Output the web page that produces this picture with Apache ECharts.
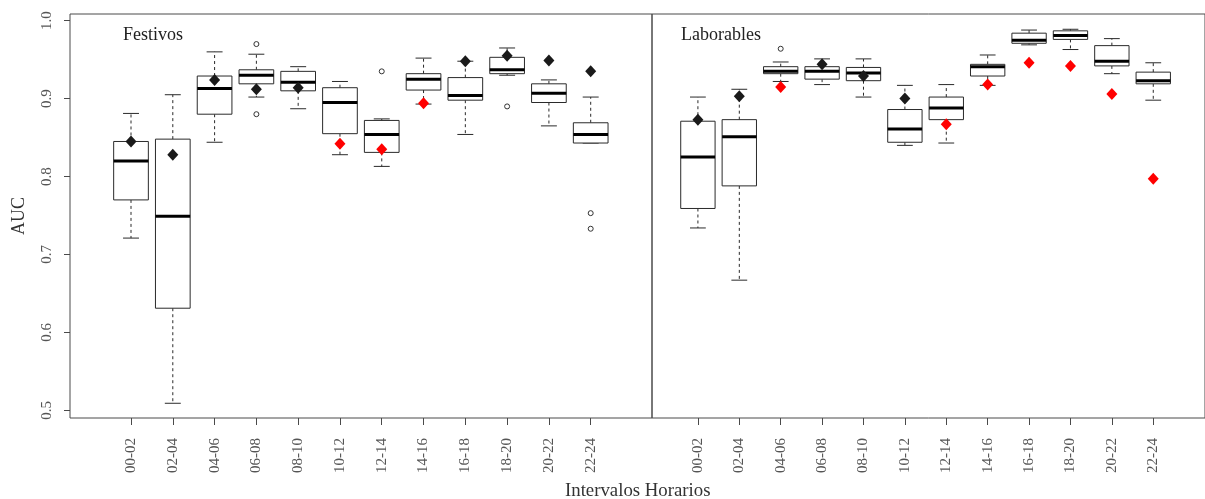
<!DOCTYPE html>
<html>
<head>
<meta charset="utf-8">
<title>AUC por intervalos horarios</title>
<script src="https://cdn.jsdelivr.net/npm/echarts@6/dist/echarts.min.js"></script>
<style>
  html, body { margin: 0; padding: 0; background: #fff; }
  #chart { width: 1205px; height: 499px; }
</style>
</head>
<body>
<div id="chart"></div>
<script>
// Two-hour intervals shown on both panels
const categories = ['00-02', '02-04', '04-06', '06-08', '08-10', '10-12',
                    '12-14', '14-16', '16-18', '18-20', '20-22', '22-24'];
const yTicks = [0.5, 0.6, 0.7, 0.8, 0.9, 1.0];

// Festivos: whisker ends, quartiles and median per interval
const festLow  = [0.721, 0.509, 0.844, 0.902, 0.887, 0.828, 0.813, 0.893, 0.854, 0.930, 0.865, 0.843];
const festQ1   = [0.770, 0.631, 0.880, 0.919, 0.910, 0.855, 0.831, 0.911, 0.898, 0.932, 0.895, 0.843];
const festMed  = [0.820, 0.749, 0.913, 0.930, 0.921, 0.895, 0.854, 0.925, 0.904, 0.937, 0.907, 0.854];
const festQ3   = [0.845, 0.848, 0.929, 0.937, 0.935, 0.914, 0.872, 0.932, 0.927, 0.953, 0.919, 0.869];
const festHigh = [0.881, 0.905, 0.960, 0.957, 0.941, 0.922, 0.874, 0.952, 0.948, 0.965, 0.924, 0.902];
// Festivos: outlying AUC values as [interval index, value]
const festOutliers = [[3, 0.970], [3, 0.880], [6, 0.935], [9, 0.890], [11, 0.753], [11, 0.733]];
// Festivos: single AUC point per interval and whether it is flagged (red)
const festPoint = [0.845, 0.828, 0.924, 0.912, 0.914, 0.842, 0.835, 0.894, 0.948, 0.955, 0.949, 0.935];
const festFlag  = [false, false, false, false, false, true, true, true, false, false, false, false];

// Laborables: whisker ends, quartiles and median per interval
const labLow  = [0.734, 0.667, 0.922, 0.918, 0.902, 0.840, 0.843, 0.917, 0.969, 0.963, 0.932, 0.898];
const labQ1   = [0.759, 0.788, 0.932, 0.925, 0.923, 0.844, 0.873, 0.929, 0.971, 0.976, 0.942, 0.919];
const labMed  = [0.825, 0.851, 0.935, 0.935, 0.933, 0.861, 0.888, 0.941, 0.975, 0.981, 0.948, 0.923];
const labQ3   = [0.871, 0.873, 0.941, 0.941, 0.940, 0.886, 0.902, 0.944, 0.984, 0.987, 0.968, 0.934];
const labHigh = [0.902, 0.912, 0.947, 0.951, 0.951, 0.917, 0.918, 0.956, 0.988, 0.989, 0.977, 0.946];
const labOutliers = [[2, 0.964]];
const labPoint = [0.873, 0.903, 0.915, 0.944, 0.929, 0.900, 0.867, 0.918, 0.946, 0.942, 0.906, 0.797];
const labFlag  = [false, false, true, false, false, false, true, true, true, true, true, true];

const serif = '"Liberation Serif", "DejaVu Serif", serif';
const frameColor = '#4a4a4a';
const Y_MIN = 0.4901, Y_MAX = 1.0086;

function boxRows(lo, q1, med, q3, hi) {
  return categories.map((c, i) => [i, lo[i], q1[i], med[i], q3[i], hi[i]]);
}
function pointRows(vals, flags) {
  return vals.map((v, i) => ({
    value: [i, v],
    itemStyle: { color: flags[i] ? '#ff0000' : '#1a1a1a', opacity: 1 }
  }));
}

// R-style box: dashed whiskers, half-width staples, thick median
function renderBox(params, api) {
  const i = api.value(0);
  const pLo = api.coord([i, api.value(1)]);
  const pQ1 = api.coord([i, api.value(2)]);
  const pMed = api.coord([i, api.value(3)]);
  const pQ3 = api.coord([i, api.value(4)]);
  const pHi = api.coord([i, api.value(5)]);
  const step = api.size([1, 0])[0];
  const bw = step * 0.83;
  const sw = bw * 0.46;
  const cx = pMed[0];
  const thin = { stroke: '#2a2a2a', lineWidth: 1, fill: null };
  const dash = { stroke: '#2a2a2a', lineWidth: 1, lineDash: [3, 3], fill: null };
  return {
    type: 'group',
    children: [
      { type: 'line', shape: { x1: cx, y1: pQ3[1], x2: cx, y2: pHi[1] }, style: dash },
      { type: 'line', shape: { x1: cx, y1: pQ1[1], x2: cx, y2: pLo[1] }, style: dash },
      { type: 'line', shape: { x1: cx - sw / 2, y1: pHi[1], x2: cx + sw / 2, y2: pHi[1] }, style: thin },
      { type: 'line', shape: { x1: cx - sw / 2, y1: pLo[1], x2: cx + sw / 2, y2: pLo[1] }, style: thin },
      { type: 'rect', shape: { x: cx - bw / 2, y: pQ3[1], width: bw, height: pQ1[1] - pQ3[1] },
        style: { stroke: '#2a2a2a', lineWidth: 1, fill: '#ffffff' } },
      { type: 'line', shape: { x1: cx - bw / 2, y1: pMed[1], x2: cx + bw / 2, y2: pMed[1] },
        style: { stroke: '#000', lineWidth: 3 } }
    ]
  };
}

function xAxisFor(gridIndex, min, max) {
  return {
    type: 'value', gridIndex, min, max,
    splitLine: { show: false },
    axisLine: { show: false, onZero: false },
    axisTick: { show: true, customValues: categories.map((c, i) => i), length: 7,
                lineStyle: { color: frameColor, width: 1 } },
    axisLabel: { show: true, customValues: categories.map((c, i) => i), rotate: 90, margin: 20,
                 formatter: v => categories[Math.round(v)], color: '#555',
                 fontFamily: serif, fontSize: 15 }
  };
}
function yAxisFor(gridIndex, visible) {
  return {
    type: 'value', gridIndex, min: Y_MIN, max: Y_MAX,
    splitLine: { show: false },
    axisLine: { show: false, onZero: false },
    name: visible ? 'AUC' : '',
    nameLocation: 'middle', nameGap: 42, nameRotate: 90,
    nameTextStyle: { fontFamily: serif, fontSize: 18, color: '#333' },
    axisTick: { show: visible, customValues: yTicks, length: 6, lineStyle: { color: frameColor } },
    axisLabel: { show: visible, customValues: yTicks, rotate: 90, margin: 15,
                 formatter: v => v.toFixed(1), color: '#555', fontFamily: serif, fontSize: 15 }
  };
}

const option = {
  backgroundColor: '#ffffff',
  animation: false,
  title: [
    { text: 'Festivos', left: 123, top: 26, padding: 0,
      textStyle: { fontFamily: serif, fontSize: 18, fontWeight: 'normal', color: '#222' } },
    { text: 'Laborables', left: 681, top: 26, padding: 0,
      textStyle: { fontFamily: serif, fontSize: 18, fontWeight: 'normal', color: '#222' } },
    { text: 'Intervalos Horarios', left: 565, top: 482, padding: 0,
      textStyle: { fontFamily: serif, fontSize: 18.8, fontWeight: 'normal', color: '#333' } }
  ],
  grid: [
    { left: 70, top: 14, width: 582, bottom: 81, show: true, borderColor: frameColor, borderWidth: 1,
      backgroundColor: 'transparent' },
    { left: 652, top: 14, right: -6, bottom: 81, show: true, borderColor: frameColor, borderWidth: 1,
      backgroundColor: 'transparent' }
  ],
  xAxis: [
    xAxisFor(0, -1.46, 12.467),
    xAxisFor(1, -1.109, 12.25)
  ],
  yAxis: [
    yAxisFor(0, true),
    yAxisFor(1, false)
  ],
  series: [
    { type: 'custom', name: 'Festivos', xAxisIndex: 0, yAxisIndex: 0, clip: false,
      renderItem: renderBox, encode: { x: 0, y: [1, 2, 3, 4, 5] },
      data: boxRows(festLow, festQ1, festMed, festQ3, festHigh), z: 2 },
    { type: 'custom', name: 'Laborables', xAxisIndex: 1, yAxisIndex: 1, clip: false,
      renderItem: renderBox, encode: { x: 0, y: [1, 2, 3, 4, 5] },
      data: boxRows(labLow, labQ1, labMed, labQ3, labHigh), z: 2 },
    { type: 'scatter', xAxisIndex: 0, yAxisIndex: 0, symbol: 'circle', symbolSize: 5,
      itemStyle: { color: '#fff', borderColor: '#333', borderWidth: 1, opacity: 1 },
      data: festOutliers, z: 3 },
    { type: 'scatter', xAxisIndex: 1, yAxisIndex: 1, symbol: 'circle', symbolSize: 5,
      itemStyle: { color: '#fff', borderColor: '#333', borderWidth: 1, opacity: 1 },
      data: labOutliers, z: 3 },
    { type: 'scatter', xAxisIndex: 0, yAxisIndex: 0, symbol: 'diamond', symbolSize: [11, 12],
      data: pointRows(festPoint, festFlag), z: 4 },
    { type: 'scatter', xAxisIndex: 1, yAxisIndex: 1, symbol: 'diamond', symbolSize: [11, 12],
      data: pointRows(labPoint, labFlag), z: 4 }
  ]
};

const chart = echarts.init(document.getElementById('chart'), null, { renderer: 'canvas' });
chart.setOption(option);
</script>
</body>
</html>
